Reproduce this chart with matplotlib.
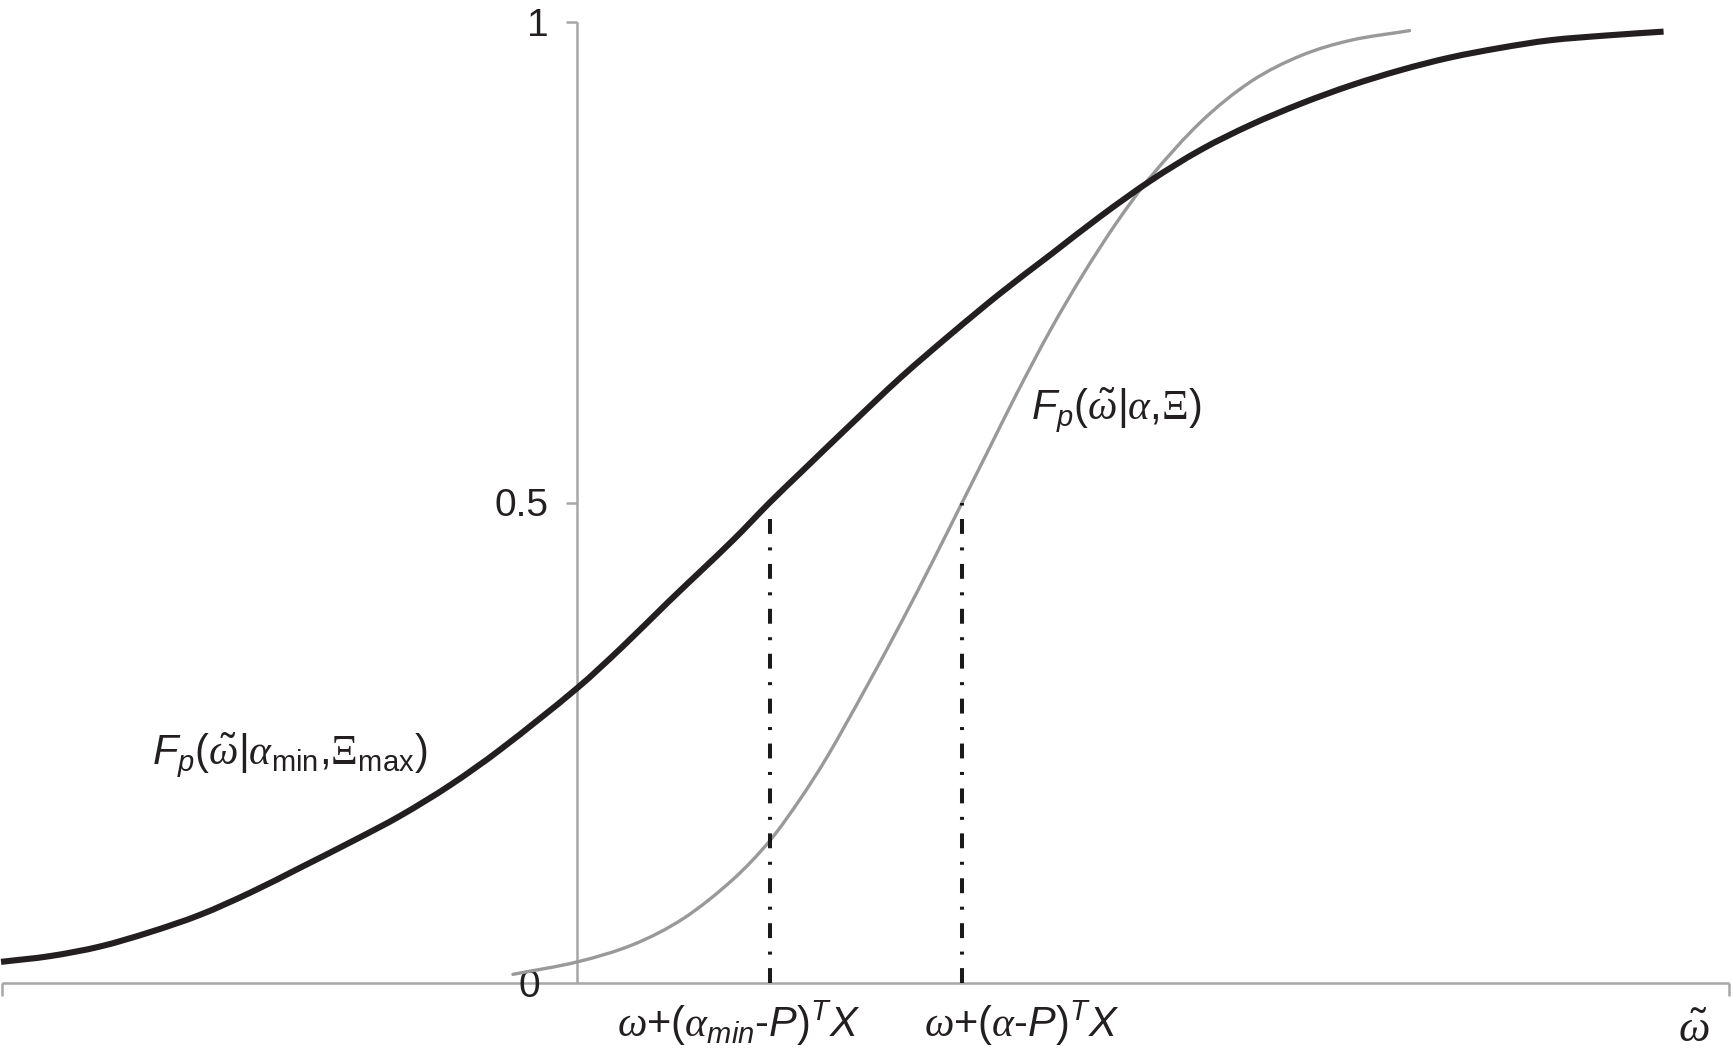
import matplotlib
matplotlib.use("Agg")
import matplotlib.pyplot as plt
from matplotlib.path import Path
from matplotlib.patches import PathPatch

plt.rcParams['font.family'] = ['Liberation Sans', 'DejaVu Sans']
plt.rcParams['mathtext.fontset'] = 'custom'
plt.rcParams['mathtext.rm'] = 'Liberation Sans'
plt.rcParams['mathtext.it'] = 'Liberation Sans:italic'
plt.rcParams['mathtext.cal'] = 'Liberation Serif:italic'
plt.rcParams['mathtext.tt'] = 'Liberation Serif'

# ---- data ----
x_black = [-5.99, -5.48, -4.96, -4.44, -3.92, -3.40, -2.88, -2.29, -1.84, -1.32,
           -0.80, 0.0, 0.47, 0.94, 1.62, 2.0, 2.32, 2.84, 3.36, 3.88, 4.40, 4.92,
           5.44, 5.96, 6.48, 7.00, 7.52, 8.04, 8.56, 9.07, 9.59, 10.11, 10.70, 11.29]
y_black = [0.022, 0.028, 0.038, 0.053, 0.071, 0.094, 0.120, 0.150, 0.174, 0.206,
           0.243, 0.307, 0.350, 0.396, 0.461, 0.500, 0.531, 0.581, 0.630, 0.675,
           0.718, 0.758, 0.798, 0.835, 0.867, 0.893, 0.915, 0.934, 0.950, 0.963,
           0.973, 0.981, 0.986, 0.990]

x_grey = [-0.67, 0.0, 0.58, 1.10, 1.62, 2.00, 2.32, 2.60, 3.01, 3.36, 3.70, 4.00,
          4.29, 4.57, 4.92, 5.26, 5.61, 5.96, 6.48, 7.00, 7.52, 8.04, 8.65]
y_grey = [0.009, 0.022, 0.040, 0.067, 0.108, 0.148, 0.192, 0.236, 0.309, 0.374,
          0.440, 0.500, 0.558, 0.614, 0.680, 0.738, 0.792, 0.839, 0.896, 0.938,
          0.965, 0.981, 0.991]

vline_x = [2.0, 4.0]
vline_top = [0.495, 0.5]

ytick_vals = [0.5, 1]
ytick_labels = ['0.5', '1']
zero_label = '0'

xmarker_labels = [r'$\mathcal{\omega}$+($\mathcal{\alpha}_{min}$-$P)^{T}X$',
                  r'$\mathcal{\omega}$+($\mathcal{\alpha}$-$P)^{T}X$']
curve_label_black = r'$F_p(\tilde{\mathcal{\omega}}|\mathcal{\alpha}_{\mathrm{min}}{,}\mathtt{\Xi}_{\mathrm{max}})$'
curve_label_grey = r'$F_p(\tilde{\mathcal{\omega}}|\mathcal{\alpha}{,}\mathtt{\Xi})$'
xaxis_label = r'$\tilde{\mathcal{\omega}}$'

# ---- styling ----
W, H = 1733, 1053
TXT = '#231f20'
AX = '#a6a6a6'


def smooth_path(xs, ys):
    """Cubic Hermite curve through the read points, drawn as Bezier segments."""
    n = len(xs)
    m = []
    for i in range(n):
        if i == 0:
            m.append((ys[1] - ys[0]) / (xs[1] - xs[0]))
        elif i == n - 1:
            m.append((ys[-1] - ys[-2]) / (xs[-1] - xs[-2]))
        else:
            m.append((ys[i + 1] - ys[i - 1]) / (xs[i + 1] - xs[i - 1]))
    verts = [(xs[0], ys[0])]
    codes = [Path.MOVETO]
    for i in range(n - 1):
        dx = xs[i + 1] - xs[i]
        verts += [(xs[i] + dx / 3, ys[i] + m[i] * dx / 3),
                  (xs[i + 1] - dx / 3, ys[i + 1] - m[i + 1] * dx / 3),
                  (xs[i + 1], ys[i + 1])]
        codes += [Path.CURVE4] * 3
    return Path(verts, codes)


fig = plt.figure(figsize=(W / 100, H / 100), dpi=100)
ax = fig.add_axes([2 / W, (H - 983) / H, (1729 - 2) / W, (983 - 22) / H])
ax.set_xlim(-5.98, 11.97)
ax.set_ylim(0, 1)

for s in ['top', 'right']:
    ax.spines[s].set_visible(False)
ax.spines['left'].set_position(('data', 0))
for s in ['left', 'bottom']:
    ax.spines[s].set_color(AX)
    ax.spines[s].set_linewidth(1.8)
    ax.spines[s].set_capstyle('butt')

ax.set_yticks(ytick_vals)
ax.set_yticklabels(ytick_labels)
ax.tick_params(axis='y', direction='out', length=8, width=1.8, color=AX,
               labelsize=28, labelcolor=TXT, pad=13)
ax.annotate(zero_label, xy=(0, 0), xytext=(-26.5, -3), textcoords='offset points',
            fontsize=28, color=TXT, ha='right', va='center', annotation_clip=False)
ax.set_xticks([-5.98, 11.97])
ax.set_xticklabels(['', ''])
ax.tick_params(axis='x', direction='out', length=9.5, width=1.8, color=AX)

ax.add_patch(PathPatch(smooth_path(x_grey, y_grey), fill=False, edgecolor='#999999',
                       lw=2.4, capstyle='round', joinstyle='round', zorder=3,
                       clip_on=False))
ax.add_patch(PathPatch(smooth_path(x_black, y_black), fill=False, edgecolor=TXT,
                       lw=4.4, capstyle='butt', joinstyle='round', zorder=4,
                       clip_on=False))

for xv, top in zip(vline_x, vline_top):
    ax.plot([xv, xv], [0, top], color='#1a1a1a', lw=2.9,
            linestyle=(0, (3.7, 3.35, 0.75, 3.35)), dash_capstyle='butt',
            zorder=5, clip_on=False)

ax.text(-4.42, 0.228, curve_label_black, fontsize=30, color=TXT,
        ha='left', va='baseline')
ax.text(4.72, 0.587, curve_label_grey, fontsize=30, color=TXT,
        ha='left', va='baseline')

for xv, lab in zip([1.68, 4.62], xmarker_labels):
    ax.text(xv, -0.056, lab, fontsize=30, color=TXT, ha='center',
            va='baseline', clip_on=False)

ax.text(11.60, -0.061, xaxis_label, fontsize=32, color=TXT, ha='center',
        va='baseline', clip_on=False)

fig.savefig('out.png', dpi=100, facecolor='white')
